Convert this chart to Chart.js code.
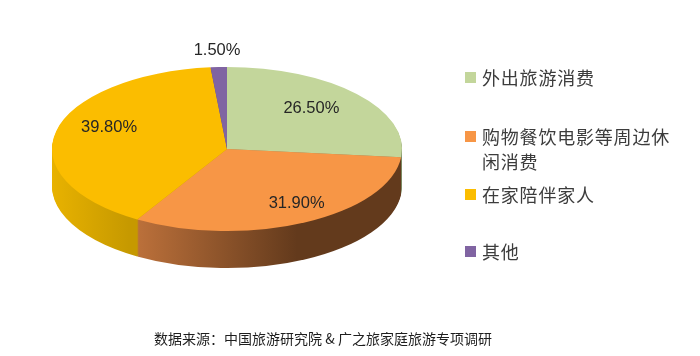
<!DOCTYPE html>
<html><head><meta charset="utf-8">
<script src="https://cdn.jsdelivr.net/npm/chart.js@4/dist/chart.umd.min.js"></script>
<style>
html,body{margin:0;padding:0;background:#fff;}
#wrap{position:relative;width:700px;height:356px;overflow:hidden;background:#fff;}
#c{position:absolute;left:0;top:0;}
.leg{position:absolute;left:465px;font-family:"Noto Sans CJK SC","Noto Sans",sans-serif;font-size:18px;line-height:25px;color:#3c3c3c;letter-spacing:0.8px;}
.leg .sw{position:absolute;left:0;top:7px;width:11px;height:11px;}
.leg .tx{margin-left:17px;width:200px;}
#src{position:absolute;left:0;top:328px;width:646px;text-align:center;font-family:"Noto Sans CJK SC","Noto Sans",sans-serif;font-size:14px;line-height:20px;color:#1e1e1e;}
</style>
</head><body>
<div id="wrap">
<canvas id="c" width="700" height="356"></canvas>
<div id="legend"></div>
<div id="src">数据来源：中国旅游研究院 &amp; 广之旅家庭旅游专项调研</div>
</div>
<script>
// ---- data ----
const categories = ['外出旅游消费', '购物餐饮电影等周边休闲消费', '在家陪伴家人', '其他'];
const shares = [26.5, 31.9, 39.8, 1.5];

// ---- style ----
const topColors = ['#c3d69b', '#f79646', '#fbbd00', '#8064a2'];
const sideStops = [
  [[0, '#8f9e72'], [1, '#7d8a63']],
  [[0, '#c97b42'], [0.22, '#c0733c'], [0.7, '#633a1c'], [1, '#633a1c']],
  [[0, '#e8b200'], [0.22, '#c69900'], [1, '#c69900']],
  [[0, '#5e4a78'], [1, '#5e4a78']]
];
const TILT = 0.469, DEPTH = 37, CY = 149;
const legendTops = [65, 124, 182, 239];
const labelNudge = [[-9, -1], [13, 2], [5, -9], [0, 0]];

// legend (HTML)
const legEl = document.getElementById('legend');
categories.forEach((name, i) => {
  const d = document.createElement('div');
  d.className = 'leg';
  d.style.top = legendTops[i] + 'px';
  d.innerHTML = '<div class="sw" style="background:' + topColors[i] + '"></div><div class="tx"></div>';
  d.querySelector('.tx').textContent = name;
  legEl.appendChild(d);
});

const pie3d = {
  id: 'pie3d',
  beforeDatasetsDraw(chart) {
    const ctx = chart.ctx, a = chart.chartArea;
    const meta = chart.getDatasetMeta(0);
    const cx = meta.data[0].x, cy0 = meta.data[0].y;
    const grads = meta.data.map((el, i) => {
      const g = ctx.createLinearGradient(a.left, 0, a.right, 0);
      sideStops[i].forEach(s => g.addColorStop(s[0], s[1]));
      return g;
    });
    for (let d = DEPTH; d >= 1; d--) {
      ctx.save();
      ctx.translate(cx, CY + d); ctx.scale(1, TILT); ctx.translate(-cx, -cy0);
      meta.data.forEach((el, i) => {
        const p = Object.create(el);
        p.options = Object.assign({}, el.options, {backgroundColor: grads[i], borderWidth: 0});
        el.draw.call(p, ctx);
      });
      ctx.restore();
    }
    ctx.save();
    ctx.translate(cx, CY); ctx.scale(1, TILT); ctx.translate(-cx, -cy0);
  },
  afterDatasetsDraw(chart) {
    const ctx = chart.ctx;
    ctx.restore();
    const meta = chart.getDatasetMeta(0);
    ctx.save();
    ctx.font = '16.5px "Liberation Sans", Arial, sans-serif';
    ctx.fillStyle = '#262626';
    ctx.textAlign = 'center';
    ctx.textBaseline = 'middle';
    meta.data.forEach((el, i) => {
      const mid = (el.startAngle + el.endAngle) / 2;
      const f = shares[i] < 5 ? 1.2 : 0.72;
      const R = el.outerRadius;
      const x = el.x + Math.cos(mid) * R * f + labelNudge[i][0];
      const y = CY + Math.sin(mid) * R * f * TILT + labelNudge[i][1];
      ctx.fillText(shares[i].toFixed(2) + '%', x, y);
    });
    ctx.restore();
  }
};

new Chart(document.getElementById('c'), {
  type: 'pie',
  data: {
    labels: categories,
    datasets: [{
      data: shares,
      backgroundColor: topColors,
      borderWidth: 0,
      clip: false
    }]
  },
  options: {
    responsive: false,
    animation: false,
    layout: {padding: {left: 52, right: 298, top: 3, bottom: 3}},
    plugins: {legend: {display: false}, tooltip: {enabled: false}}
  },
  plugins: [pie3d]
});
</script>
</body></html>
